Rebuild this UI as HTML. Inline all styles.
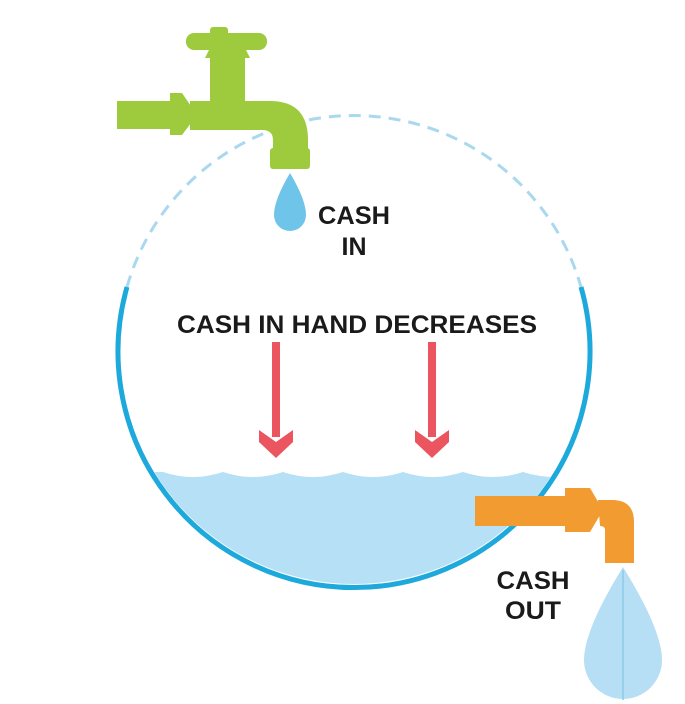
<!DOCTYPE html>
<html><head><meta charset="utf-8"><style>
html,body{margin:0;padding:0;background:#fff;width:685px;height:704px;overflow:hidden}
svg{display:block}
text{font-family:"Liberation Sans",sans-serif;font-weight:bold;fill:#1a1a1a}
</style></head><body>
<svg width="685" height="704" viewBox="0 0 685 704" xmlns="http://www.w3.org/2000/svg">
<defs>
<clipPath id="c"><circle cx="354" cy="350" r="234"/></clipPath>
</defs>
<!-- water -->
<g clip-path="url(#c)">
<path d="M100,472 L163,472 Q193,482 223,472 Q253,482 283,472 Q313,482 343,472 Q373,482 403,472 Q433,482 463,472 Q493,482 523,472 Q553,482 600,472 L600,700 L100,700 Z" fill="#b6e0f5"/>
</g>
<!-- dashed top arc -->
<path d="M127,287 A236,236 0 0 1 581,287" fill="none" stroke="#a9d8ef" stroke-width="3" stroke-dasharray="12,8"/>
<!-- solid arc -->
<path d="M127,287 A236,236 0 1 0 581,287" fill="none" stroke="#1ea9dc" stroke-width="5"/>
<!-- red arrows -->
<g fill="#ea5560">
<rect x="272" y="342" width="8" height="95"/>
<path d="M259,430 L276,442 L293,430 L293,442 L276,458 L259,442 Z"/>
<rect x="428" y="342" width="8" height="95"/>
<path d="M415,430 L432,442 L449,430 L449,442 L432,458 L415,442 Z"/>
</g>
<!-- green tap -->
<g fill="#9dcb3d">
<rect x="117" y="101" width="60" height="28"/>
<path d="M170,93 L182,93 L197,115 L182,135 L170,135 Z"/>
<path d="M190,101 L270,101 Q308,101 308,140 L308,150 L273,150 L273,140 Q273,130 262,130 L190,130 Z"/>
<rect x="270" y="148" width="40" height="21" rx="3"/>
<rect x="210" y="50" width="35" height="55"/>
<path d="M205,58 L250,58 L245,48 L210,48 Z"/>
<rect x="186" y="33" width="81" height="17" rx="8"/>
<rect x="210" y="27" width="18" height="10" rx="3"/>
</g>
<!-- top drop -->
<path d="M290,173 Q306,200 306,215 A16,16 0 0 1 274,215 Q274,200 290,173 Z" fill="#6fc4ea"/>
<!-- orange tap -->
<g fill="#f29b31">
<rect x="475" y="496" width="110" height="30"/>
<path d="M565,488 L590,488 L603,510 L590,532 L565,532 Z"/>
<path d="M598,500 L612,500 Q634,500 634,522 L634,563 L605,563 L605,530 Q605,526 600,526 Z"/>
</g>
<!-- bottom drop -->
<path d="M623,567 Q662,630 662,660 A39,39 0 0 1 584,660 Q584,630 623,567 Z" fill="#b6def4"/>
<line x1="623" y1="570" x2="623" y2="700" stroke="#8ccbe9" stroke-width="1.5"/>
<!-- text -->
<text x="354" y="224" font-size="25" text-anchor="middle" textLength="72" lengthAdjust="spacingAndGlyphs">CASH</text>
<text x="354" y="255" font-size="25" text-anchor="middle">IN</text>
<text x="357" y="333" font-size="25" text-anchor="middle" textLength="360" lengthAdjust="spacingAndGlyphs">CASH IN HAND DECREASES</text>
<text x="533" y="589" font-size="25" text-anchor="middle" textLength="73" lengthAdjust="spacingAndGlyphs">CASH</text>
<text x="533" y="619" font-size="25" text-anchor="middle" textLength="56" lengthAdjust="spacingAndGlyphs">OUT</text>
</svg>
</body></html>
